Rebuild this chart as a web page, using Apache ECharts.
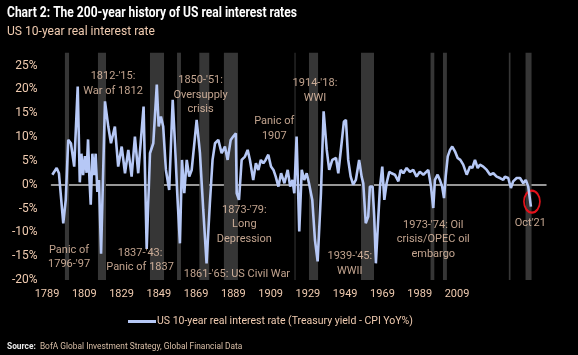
<!DOCTYPE html>
<html>
<head>
<meta charset="utf-8">
<script src="https://cdn.jsdelivr.net/npm/echarts@6/dist/echarts.min.js"></script>
<style>html,body{margin:0;padding:0;background:#000;}#c{width:578px;height:355px;}</style>
</head>
<body>
<div id="c"></div>
<script>
// ---- data ----
const years = [
1789.4,1791.5,1792.6,1794.7,1795.9,1797.1,1798.4,1800.0,1801.7,1802.7,1803.5,1804.3,1805.2,1806.0,1806.7,1807.4,1808.0,1808.8,1809.6,1810.4,1811.2,1812.0,1813.0,
1814.9,1816.5,1817.8,1819.7,1821.3,1823.0,1824.6,1826.2,1827.8,1829.4,1831.0,1833.6,1835.1,1836.7,1838.3,1840.0,1840.9,1842.0,1843.1,1844.4,1846.0,1847.7,1848.8,1849.9,
1851.2,1852.2,1853.3,1854.5,1855.7,1856.9,1858.5,1859.3,1860.9,1862.5,1864.1,1865.7,1867.0,1868.2,1869.8,1871.4,1873.0,1874.3,1875.8,1877.0,1878.3,1878.7,1879.8,
1881.1,1882.7,1884.0,1885.1,1886.7,1888.0,1889.2,1890.4,1891.6,1892.7,1894.0,1895.3,1896.5,1897.6,1898.9,1900.2,1901.8,1903.4,1904.6,1905.7,1906.6,1907.7,1909.0,
1910.2,1911.4,1912.6,1913.7,1915.3,1916.6,1917.9,1919.5,1920.8,1922.3,1923.5,1925.0,1926.8,1927.9,1929.5,1930.6,1931.6,1932.7,1933.9,1935.1,1936.4,1938.0,1939.2,
1940.0,1941.2,1942.4,1943.2,1944.5,1945.3,1946.1,1947.3,1948.1,1949.2,1950.2,1951.3,1952.6,1953.7,1955.3,1957.0,1958.1,1959.4,1961.0,1962.6,1964.2,1965.8,1967.4,
1969.1,1970.0,1971.5,1972.8,1973.9,1974.7,1976.0,1977.1,1978.2,1979.1,1979.9,1980.9,1982.0,1983.1,1984.4,1985.7,1987.0,1988.4,1990.1,1991.7,1992.8,1994.1,1995.4,
1996.5,1998.1,1999.8,2001.4,2003.0,2004.6,2006.2,2007.8,2008.6,2010.2,2011.5,2012.6,2014.3,2015.9,2017.5,2018.7,2019.9,2021.2
];
const realRates = [
2.1,3.5,2.4,-8.1,-3.2,9.4,8.7,3.8,20.6,0.5,6.5,2.0,6.0,2.5,9.5,1.0,-4.2,6.5,2.0,6.5,-1.5,1.0,-14.5,
17.5,12.2,8.7,12.2,3.8,8.0,2.4,7.3,1.7,10.1,2.4,16.4,-13.5,6.6,8.7,21.0,12.2,14.3,12.2,3.1,-1.1,17.8,8.7,-1.8,
-12.3,5.2,-1.8,5.2,1.7,3.1,10.1,13.6,6.6,-5.3,-16.5,-3.9,5.2,8.7,9.4,6.6,8.0,5.2,9.4,10.1,10.8,-1.8,-3.2,
5.2,5.9,7.3,5.2,1.0,4.5,3.1,5.2,4.5,5.2,6.3,3.8,3.1,1.7,-0.4,2.4,0.3,3.1,-0.4,1.0,-1.8,10.1,-9.8,
3.1,1.0,2.4,0.3,-3.2,-11.6,-16.1,-1.8,15.4,7.3,3.1,5.2,5.6,2.4,8.7,13.2,13.6,5.2,1.7,0.0,1.0,5.2,1.7,
0.3,-8.1,-6.7,-0.4,-0.4,-6.7,-16.5,-6.7,-0.4,3.8,-3.2,0.3,2.7,2.4,2.1,0.7,3.1,2.4,3.5,2.7,3.1,1.7,2.7,
2.1,2.4,3.1,-0.4,-4.9,1.0,2.1,1.0,-0.4,-2.8,1.7,5.9,7.3,8.0,7.0,5.6,5.2,4.2,2.1,3.8,3.5,5.2,3.5,
4.2,3.8,3.1,2.1,2.4,1.7,1.4,1.0,1.7,1.4,-0.7,0.7,1.4,1.4,0.3,1.0,-0.4,-4.6
];
// shaded periods [start, end] in years
const bandStarts = [1795.5,1811.5,1836.7,1849.8,1860.6,1872.5,1906.7,1913.7,1938.9,1972.6,1978.6,2010.5,2018.6];
const bandEnds   = [1797.5,1815.4,1843.5,1851.7,1865.4,1879.3,1907.2,1918.1,1945.2,1974.4,1980.5,2011.3,2021.5];
const tickLabels = ['1789','1809','1829','1849','1869','1889','1909','1929','1949','1969','1989','2009'];
const yTicks = [-20,-15,-10,-5,0,5,10,15,20,25];
const seriesName = 'US 10-year real interest rate (Treasury yield - CPI YoY%)';
const titleText = 'Chart 2: The 200-year history of US real interest rates';
const subtitleText = 'US 10-year real interest rate';
const sourceText = 'BofA Global Investment Strategy, Global Financial Data';
const annotations = [
  {text:"Panic of\n1796-'97", year:1797.5, value:-15.2},
  {text:"1812-'15:\nWar of 1812", year:1818.8, value:21.2},
  {text:"1837-'43:\nPanic of 1837", year:1831.9, value:-15.9},
  {text:"1850-'51:\nOversupply\ncrisis", year:1861.2, value:18.8},
  {text:"1861-'65: US Civil War", year:1878.8, value:-18.7},
  {text:"1873-'79:\nLong\nDepression", year:1882.4, value:-8.4},
  {text:"Panic of\n1907", year:1896.9, value:11.7},
  {text:"1914-'18:\nWWI", year:1916.6, value:19.7},
  {text:"1939-'45:\nWWII", year:1933.5, value:-16.6},
  {text:"1973-'74: Oil\ncrisis/OPEC oil\nembargo", year:1973.9, value:-11.5},
  {text:"Oct'21", year:2020.9, value:-8.1}
];

// ---- chart ----
const FONT = "Roboto, 'Liberation Sans', sans-serif";
const TXT = '#f0cbb0';
const lineData = years.map((y,i)=>[y, realRates[i]]);
const last = lineData[lineData.length-1];

const chart = echarts.init(document.getElementById('c'), null, {renderer:'canvas'});
chart.setOption({
  backgroundColor:'#000',
  animation:false,
  textStyle:{fontFamily:FONT},
  legend:{
    left:123, top:311, itemWidth:28, itemHeight:3, icon:'rect',
    textStyle:{color:TXT, fontSize:10.5, fontFamily:FONT, padding:[0,0,0,-4]},
    data:[seriesName]
  },
  grid:[
    {left:51.5, right:32, top:52.7, bottom:75},
    {left:47, right:121, top:52.7, bottom:75}
  ],
  xAxis:[
    {type:'value', gridIndex:0, min:1789, max:2028.5,
     axisLine:{onZero:true, lineStyle:{color:'#c9c9c9', width:1.5}},
     axisTick:{show:false}, axisLabel:{show:false}, splitLine:{show:false}},
    {type:'value', gridIndex:1, min:0, max:tickLabels.length-1, interval:1,
     axisLine:{show:false}, axisTick:{show:false}, splitLine:{show:false},
     axisLabel:{color:TXT, fontSize:11, fontFamily:FONT, margin:9,
       formatter:v=>tickLabels[Math.round(v)]||''}}
  ],
  yAxis:[
    {type:'value', gridIndex:0, min:yTicks[0], max:27.7, interval:5,
     axisLine:{show:false}, axisTick:{show:false}, splitLine:{show:false},
     axisLabel:{color:TXT, fontSize:12, fontFamily:FONT, margin:14, showMaxLabel:false,
       formatter:v=> yTicks.indexOf(v)>=0 ? v+'%' : ''}},
    {type:'value', gridIndex:1, show:false}
  ],
  series:[
    {
      name:seriesName, type:'line', xAxisIndex:0, yAxisIndex:0,
      data:lineData, showSymbol:false, symbol:'none',
      lineStyle:{color:'#b6c8f6', width:2.6}, itemStyle:{color:'#b6c8f6'},
      z:5,
      markArea:{
        silent:true,
        itemStyle:{color:'#363636'},
        data: bandStarts.map((s,i)=>[{xAxis:s, yAxis:-20},{xAxis:bandEnds[i], yAxis:27.7}])
      },
      markPoint:{
        silent:true,
        symbol:'circle', symbolSize:[16,22], symbolOffset:[1,-5],
        itemStyle:{color:'rgba(0,0,0,0)', borderColor:'#e3121b', borderWidth:2},
        label:{show:false},
        data:[{coord:last}]
      }
    },
    {
      type:'scatter', xAxisIndex:0, yAxisIndex:0, symbolSize:0, silent:true, z:6,
      data: annotations.map(a=>({name:a.text, value:[a.year,a.value]})),
      label:{show:true, position:'inside', formatter:'{b}', color:TXT, fontSize:11,
        lineHeight:14.5, fontFamily:FONT, align:'center'}
    }
  ],
  graphic:[
    {type:'text', x:7, y:6, scaleX:0.86,
     style:{text:titleText, fill:'#ffffff', fontSize:14, fontWeight:'bold', fontFamily:FONT}},
    {type:'text', x:7, y:25, scaleX:0.93,
     style:{text:subtitleText, fill:TXT, fontSize:13, fontFamily:FONT}},
    {type:'text', x:7, y:342, scaleX:0.88,
     style:{text:'{b|Source:}  '+sourceText,
       rich:{b:{fontWeight:'bold', fill:'#e8e8e8', fontSize:9.5, fontFamily:FONT}},
       fill:'#d9bfa8', fontSize:9.5, fontFamily:FONT}}
  ]
});
</script>
</body>
</html>
